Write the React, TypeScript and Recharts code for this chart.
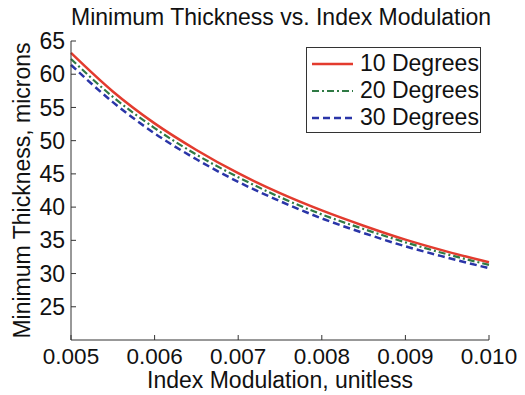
import { LineChart, Line, XAxis, YAxis, Legend } from 'recharts';

// Index modulation values (x) and thickness in microns for each angle
const modulation = [0.005, 0.0055, 0.006, 0.0065, 0.007, 0.0075, 0.008, 0.0085, 0.009, 0.0095, 0.01];
const deg10 = [63.2, 57.4, 52.6, 48.6, 45.1, 42.1, 39.5, 37.2, 35.1, 33.3, 31.7];
const deg20 = [62.3, 56.6, 51.9, 47.9, 44.5, 41.5, 38.9, 36.7, 34.7, 32.9, 31.3];
const deg30 = [61.4, 55.8, 51.1, 47.2, 43.8, 40.9, 38.3, 36.1, 34.1, 32.4, 30.8];
const xTicks = [0.005, 0.006, 0.007, 0.008, 0.009, 0.01];
const yTicks = [25, 30, 35, 40, 45, 50, 55, 60, 65];

const FONT = '"Liberation Sans", Arial, Helvetica, sans-serif';
const AXIS = '#333';
const TXT = '#111';

const data = modulation.map((m, i) => ({
  m,
  d10: deg10[i],
  d20: deg20[i],
  d30: deg30[i],
}));

function LegendBox({ payload }: any) {
  return (
    <div
      style={{
        width: 175,
        height: 86,
        border: `1px solid ${AXIS}`,
        background: '#fff',
        fontFamily: FONT,
        fontSize: 23,
        color: TXT,
        paddingTop: 2,
        boxSizing: 'border-box',
        whiteSpace: 'nowrap',
      }}
    >
      {(payload || []).map((p: any) => (
        <div key={p.value} style={{ display: 'flex', alignItems: 'center', height: 27, lineHeight: '27px' }}>
          <svg width={48} height={10} style={{ marginLeft: 5, flex: 'none' }}>
            <line
              x1={0}
              x2={41}
              y1={5}
              y2={5}
              stroke={p.color}
              strokeWidth={p.payload?.strokeWidth || 2}
              strokeDasharray={p.payload?.strokeDasharray}
            />
          </svg>
          <span>{p.value}</span>
        </div>
      ))}
    </div>
  );
}

export default function App() {
  return (
    <div style={{ position: 'relative', width: 509, height: 387 }}>
      <LineChart
        width={509}
        height={387}
        data={data}
        margin={{ top: 33, right: 28, bottom: 0, left: 0 }}
        style={{ fontFamily: FONT }}
      >
        <XAxis
          xAxisId="bottom"
          dataKey="m"
          type="number"
          domain={[0.005, 0.01]}
          ticks={xTicks}
          interval={0}
          tickFormatter={(v: number) => v.toFixed(3)}
          tickSize={-5}
          tickMargin={13}
          height={55}
          stroke={AXIS}
          tick={{ fill: TXT, fontSize: 22.5 }}
          label={{ value: 'Index Modulation, unitless', position: 'insideBottom', offset: 7, fill: TXT, fontSize: 23 }}
        />
        <XAxis
          xAxisId="top"
          orientation="top"
          dataKey="m"
          type="number"
          domain={[0.005, 0.01]}
          ticks={xTicks}
          interval={0}
          tick={false}
          tickSize={-5}
          height={0}
          stroke={AXIS}
        />
        <YAxis
          yAxisId="left"
          type="number"
          domain={[20, 65]}
          ticks={yTicks}
          interval={0}
          tickSize={-5}
          tickMargin={11}
          width={63}
          stroke={AXIS}
          tick={{ fill: TXT, fontSize: 23 }}
          label={{
            value: 'Minimum Thickness, microns',
            angle: -90,
            position: 'insideLeft',
            offset: 0,
            dx: 14,
            fill: TXT,
            fontSize: 23,
            style: { textAnchor: 'middle' },
          }}
        />
        <YAxis
          yAxisId="right"
          orientation="right"
          type="number"
          domain={[20, 65]}
          ticks={yTicks}
          interval={0}
          tick={false}
          tickSize={-5}
          width={0}
          stroke={AXIS}
        />
        <Legend
          layout="vertical"
          align="center"
          verticalAlign="middle"
          content={<LegendBox />}
          wrapperStyle={{ position: 'absolute', left: 298, top: 39, width: 175, height: 86 }}
        />
        <Line
          xAxisId="bottom"
          yAxisId="left"
          name="10 Degrees"
          dataKey="d10"
          type="monotone"
          stroke="#e33b2e"
          strokeWidth={2.5}
          dot={false}
          isAnimationActive={false}
        />
        <Line
          xAxisId="bottom"
          yAxisId="left"
          name="20 Degrees"
          dataKey="d20"
          type="monotone"
          stroke="#2f7a44"
          strokeWidth={2.2}
          strokeDasharray="7 3 2 3"
          dot={false}
          isAnimationActive={false}
        />
        <Line
          xAxisId="bottom"
          yAxisId="left"
          name="30 Degrees"
          dataKey="d30"
          type="monotone"
          stroke="#2a35a8"
          strokeWidth={2.5}
          strokeDasharray="7 4"
          dot={false}
          isAnimationActive={false}
        />
      </LineChart>
      <div
        style={{
          position: 'absolute',
          top: -2,
          left: 63,
          width: 418,
          textAlign: 'center',
          fontFamily: FONT,
          fontSize: 23,
          lineHeight: '23px',
          color: TXT,
          whiteSpace: 'nowrap',
        }}
      >
        Minimum Thickness vs. Index Modulation
      </div>
    </div>
  );
}
